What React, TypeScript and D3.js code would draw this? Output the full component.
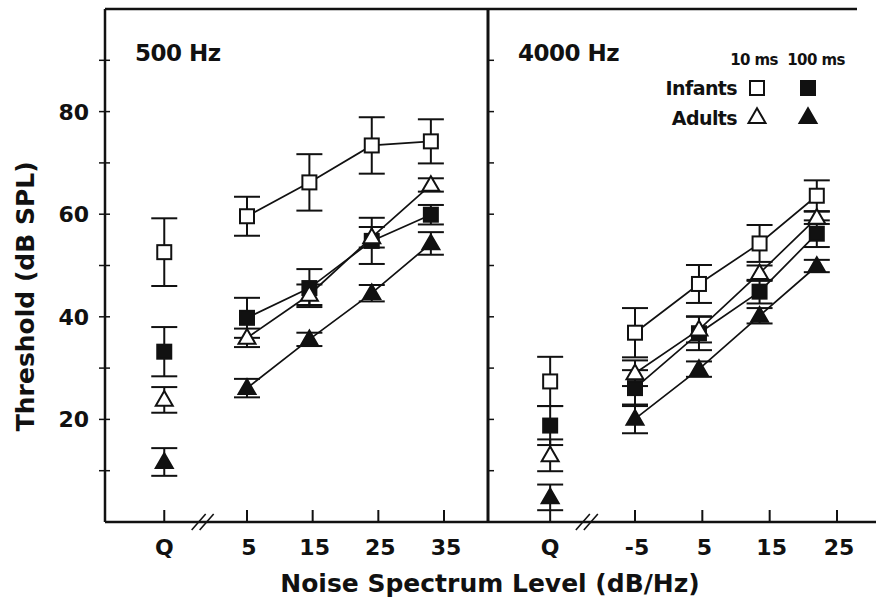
import React from 'react';
import * as d3 from 'd3';

const W = 876;
const H = 604;
const FONT = '"DejaVu Sans", "Liberation Sans", sans-serif';
const INK = '#111';

// threshold axis (dB SPL)
const yTicks = [10, 20, 30, 40, 50, 60, 70, 80, 90];
const yLabels = [20, 40, 60, 80];

// 500 Hz panel: noise levels of the masked points, and the axis ticks
const lowLevels = [5, 14.5, 24, 33];
const lowTicks = [5, 15, 25, 35];
const lowInf10 = [59.6, 66.2, 73.4, 74.2];
const lowInf10Err = [3.8, 5.5, 5.5, 4.3];
const lowInf100 = [39.8, 45.6, 54.8, 59.9];
const lowInf100Err = [3.9, 3.7, 4.5, 1.9];
const lowAd10 = [35.9, 44.3, 55.5, 65.7];
const lowAd10Err = [1.8, 2.0, 2.0, 1.3];
const lowAd100 = [26.1, 35.6, 44.6, 54.3];
const lowAd100Err = [1.8, 1.3, 1.6, 2.2];
// quiet thresholds (Q): value, error
const lowQuiet = [52.6, 33.2, 23.8, 11.7];
const lowQuietErr = [6.6, 4.8, 2.5, 2.7];

// 4000 Hz panel
const highLevels = [-5, 4.5, 13.5, 22];
const highTicks = [-5, 5, 15, 25];
const highInf10 = [36.9, 46.4, 54.3, 63.6];
const highInf10Err = [4.8, 3.7, 3.6, 3.0];
const highInf100 = [26.1, 36.8, 44.9, 56.2];
const highInf100Err = [3.5, 3.3, 2.3, 2.6];
const highAd10 = [29.0, 37.5, 48.5, 59.3];
const highAd10Err = [2.5, 2.5, 1.5, 1.2];
const highAd100 = [20.1, 29.8, 40.2, 49.9];
const highAd100Err = [2.8, 1.5, 1.5, 1.2];
const highQuiet = [27.4, 18.8, 13.0, 4.8];
const highQuietErr = [4.8, 3.8, 3.1, 2.5];

const kinds = [
  { shape: 'square', filled: false },
  { shape: 'square', filled: true },
  { shape: 'triangle', filled: false },
  { shape: 'triangle', filled: true },
];

const frameLeft = 105;
const divider = 488;
const frameTop = 9;
const axisY = 522;
const frameRight = 857;

const y = d3.scaleLinear().domain([0, 100]).range([axisY, frameTop]);

const panels = [
  {
    title: '500 Hz',
    x: d3.scaleLinear().domain([5, 35]).range([247, 444]),
    qAt: -7.6,
    breakAt: -1.6,
    ticks: lowTicks,
    levels: lowLevels,
    values: [lowInf10, lowInf100, lowAd10, lowAd100],
    errs: [lowInf10Err, lowInf100Err, lowAd10Err, lowAd100Err],
    quiet: lowQuiet,
    quietErr: lowQuietErr,
    left: frameLeft,
  },
  {
    title: '4000 Hz',
    x: d3.scaleLinear().domain([-5, 25]).range([635, 837]),
    qAt: -17.6,
    breakAt: -12,
    ticks: highTicks,
    levels: highLevels,
    values: [highInf10, highInf100, highAd10, highAd100],
    errs: [highInf10Err, highInf100Err, highAd10Err, highAd100Err],
    quiet: highQuiet,
    quietErr: highQuietErr,
    left: divider,
  },
];

const triPath = d3.symbol(d3.symbolTriangle, 125)();

function Marker({ shape, filled, cx, cy }) {
  const fill = filled ? INK : '#fff';
  if (shape === 'square') {
    return <rect x={cx - 7} y={cy - 7} width={14} height={14} fill={fill} stroke={INK} strokeWidth={2} />;
  }
  return <path d={triPath} transform={`translate(${cx},${cy + 1})`} fill={fill} stroke={INK} strokeWidth={2} />;
}

function ErrorBar({ cx, v, e }) {
  const y0 = y(v - e);
  const y1 = y(v + e);
  return (
    <g stroke={INK} strokeWidth={2}>
      <line x1={cx} x2={cx} y1={y0} y2={y1} />
      <line x1={cx - 13} x2={cx + 13} y1={y0} y2={y0} />
      <line x1={cx - 13} x2={cx + 13} y1={y1} y2={y1} />
    </g>
  );
}

function Panel({ p }) {
  const line = d3.line<number>()
    .x((_, i) => p.x(p.levels[i]))
    .y(d => y(d));
  const qx = p.x(p.qAt);
  const bx = p.x(p.breakAt);
  return (
    <g>
      {/* bottom ticks and labels */}
      {[p.qAt, ...p.ticks].map((t, i) => (
        <g key={i}>
          <line x1={p.x(t)} x2={p.x(t)} y1={axisY} y2={axisY - 12} stroke={INK} strokeWidth={2} />
          <text x={p.x(t) + (i === 0 ? 0 : 2)} y={555} textAnchor="middle" fontSize={22} fontWeight="bold" fontFamily={FONT} fill={INK}>
            {i === 0 ? 'Q' : t}
          </text>
        </g>
      ))}
      {/* axis break */}
      {[-5, 3].map(o => (
        <line key={o} x1={bx + o - 7} y1={axisY + 8} x2={bx + o + 7} y2={axisY - 8} stroke={INK} strokeWidth={1.6} />
      ))}
      <text x={p.left + 30} y={61} fontSize={23} fontWeight="bold" fontFamily={FONT} fill={INK} letterSpacing={-0.5}>
        {p.title}
      </text>
      {/* connecting lines */}
      {p.values.map((vals, s) => (
        <path key={s} d={line(vals)} fill="none" stroke={INK} strokeWidth={1.7} />
      ))}
      {/* error bars */}
      {p.values.map((vals, s) => (
        <g key={s}>
          {vals.map((v, i) => <ErrorBar key={i} cx={p.x(p.levels[i])} v={v} e={p.errs[s][i]} />)}
          <ErrorBar cx={qx} v={p.quiet[s]} e={p.quietErr[s]} />
        </g>
      ))}
      {/* markers */}
      {p.values.map((vals, s) => (
        <g key={s}>
          {vals.map((v, i) => <Marker key={i} {...kinds[s]} cx={p.x(p.levels[i])} cy={y(v)} />)}
          <Marker {...kinds[s]} cx={qx} cy={y(p.quiet[s])} />
        </g>
      ))}
    </g>
  );
}

export default function App() {
  const legendX = [757, 808];
  return (
    <svg width={W} height={H} style={{ position: 'absolute', left: 0, top: 0, background: '#fff' }}>
      <rect width={W} height={H} fill="#fff" />
      {/* frame */}
      <line x1={frameLeft} x2={frameRight} y1={frameTop} y2={frameTop} stroke={INK} strokeWidth={2.5} />
      <line x1={frameLeft} x2={frameLeft} y1={frameTop} y2={axisY} stroke={INK} strokeWidth={2.5} />
      <line x1={divider} x2={divider} y1={frameTop} y2={axisY} stroke={INK} strokeWidth={3} />
      <line x1={frameLeft} x2={W} y1={axisY} y2={axisY} stroke={INK} strokeWidth={2.5} />
      {yTicks.map(t => (
        <g key={t} stroke={INK} strokeWidth={1.5}>
          <line x1={frameLeft - 6} x2={frameLeft + 5} y1={y(t)} y2={y(t)} />
          <line x1={divider} x2={divider + 6} y1={y(t)} y2={y(t)} />
        </g>
      ))}
      {yLabels.map(t => (
        <text key={t} x={89} y={y(t)} dy="0.36em" textAnchor="end" fontSize={22} fontWeight="bold" fontFamily={FONT} fill={INK}>
          {t}
        </text>
      ))}
      <text transform={`translate(34,${y(44)}) rotate(-90)`} textAnchor="middle" fontSize={25} fontWeight="bold" fontFamily={FONT} fill={INK}>
        Threshold (dB SPL)
      </text>
      <text x={490} y={592} textAnchor="middle" fontSize={25} fontWeight="bold" fontFamily={FONT} fill={INK}>
        Noise Spectrum Level (dB/Hz)
      </text>
      {panels.map((p, i) => <Panel key={i} p={p} />)}
      {/* legend */}
      <g fontFamily={FONT} fontWeight="bold" fill={INK}>
        <text x={754} y={65} textAnchor="middle" fontSize={15} letterSpacing={-0.6}>10 ms</text>
        <text x={816} y={65} textAnchor="middle" fontSize={15} letterSpacing={-0.6}>100 ms</text>
        <text x={737} y={95} textAnchor="end" fontSize={19} letterSpacing={-0.6}>Infants</text>
        <text x={737} y={125} textAnchor="end" fontSize={19} letterSpacing={-0.6}>Adults</text>
      </g>
      <Marker shape="square" filled={false} cx={legendX[0]} cy={88} />
      <Marker shape="square" filled={true} cx={legendX[1]} cy={88} />
      <Marker shape="triangle" filled={false} cx={legendX[0]} cy={117} />
      <Marker shape="triangle" filled={true} cx={legendX[1]} cy={117} />
    </svg>
  );
}
